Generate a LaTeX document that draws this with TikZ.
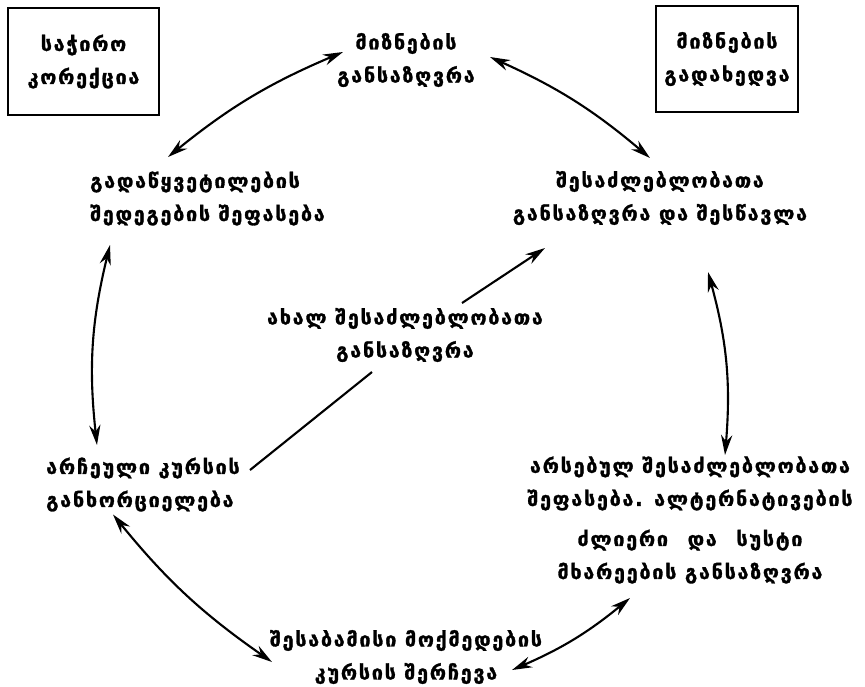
\documentclass[tikz,border=0pt]{standalone}
\usepackage{fontspec}
\newfontfamily\geofont[LetterSpace=9,FakeBold=1.5]{DejaVu Sans}
\usetikzlibrary{calc,arrows.meta}

\begin{document}
\begin{tikzpicture}[x=0.025cm, y=-0.025cm,
  lbl/.style={font=\geofont\bfseries\fontsize{14}{23.5}\selectfont, inner sep=1pt},
  framebox/.style={lbl, draw, line width=1.3pt, align=center},
  link/.style={line width=1.5pt, {Stealth[length=5mm,width=2.8mm]}-{Stealth[length=5mm,width=2.8mm]}},
  oneway/.style={line width=1.5pt, -{Stealth[length=5mm,width=2.8mm]}}]

\useasboundingbox (0,0) rectangle (865,686);

%─────────────
% Boxes in the corners
%─────────────
\node[framebox, minimum width=3.775cm, minimum height=2.675cm] (fix) at (83.5,61.5)
  {საჭირო\\კორექცია};
\node[framebox, minimum width=3.55cm, minimum height=2.65cm] (review) at (727,59)
  {მიზნების\\გადახედვა};

%─────────────
% Stages of the cycle
%─────────────
\node[lbl, align=center] (goals) at (406,60) {მიზნების\\განსაზღვრა};
\node[lbl, align=center] (explore) at (660,198) {შესაძლებლობათა\\განსაზღვრა და შესწავლა};
\node[lbl, align=center] (eval) at (690,520)
  {არსებულ შესაძლებლობათა\\შეფასება. ალტერნატივების\\[5pt]ძლიერი\quad და\quad სუსტი\\მხარეების განსაზღვრა};
\node[lbl, align=center] (choose) at (406,657) {შესაბამისი მოქმედების\\კურსის შერჩევა};
\node[lbl, align=left] (impl) at (143,484.5) {არჩეული კურსის\\განხორციელება};
\node[lbl, align=left] (assess) at (207.5,198.5) {გადაწყვეტილების\\შედეგების შეფასება};
\node[lbl, align=center] (newopp) at (405,335) {ახალ შესაძლებლობათა\\განსაზღვრა};

%─────────────
% Cycle arrows (clockwise, each bowed outwards)
%─────────────
\draw[link] ($(assess)+(-39.5,-41.5)$) to[bend left=8] ($(goals)+(-63,-8)$);
\draw[link] ($(goals)+(84,-3)$) to[bend left=8] ($(explore)+(-10,-40)$);
\draw[link] ($(explore)+(48,74)$) to[bend left=10] ($(eval)+(35,-65)$);
\draw[link] ($(eval)+(-60,78)$) to[bend left=8] ($(choose)+(106,13)$);
\draw[link] ($(choose)+(-134,5)$) to[bend left=8] ($(impl)+(-30,30)$);
\draw[link] ($(impl)+(-46,-39.5)$) to[bend left=10] ($(assess)+(-97.5,46.5)$);

%─────────────
% Diagonal through the new opportunities
%─────────────
\draw[line width=1.5pt] ($(impl)+(107,-14.5)$) -- ($(newopp)+(-33,37)$);
\draw[oneway] ($(newopp)+(57,-32)$) -- ($(explore)+(-115,50)$);

\end{tikzpicture}
\end{document}
